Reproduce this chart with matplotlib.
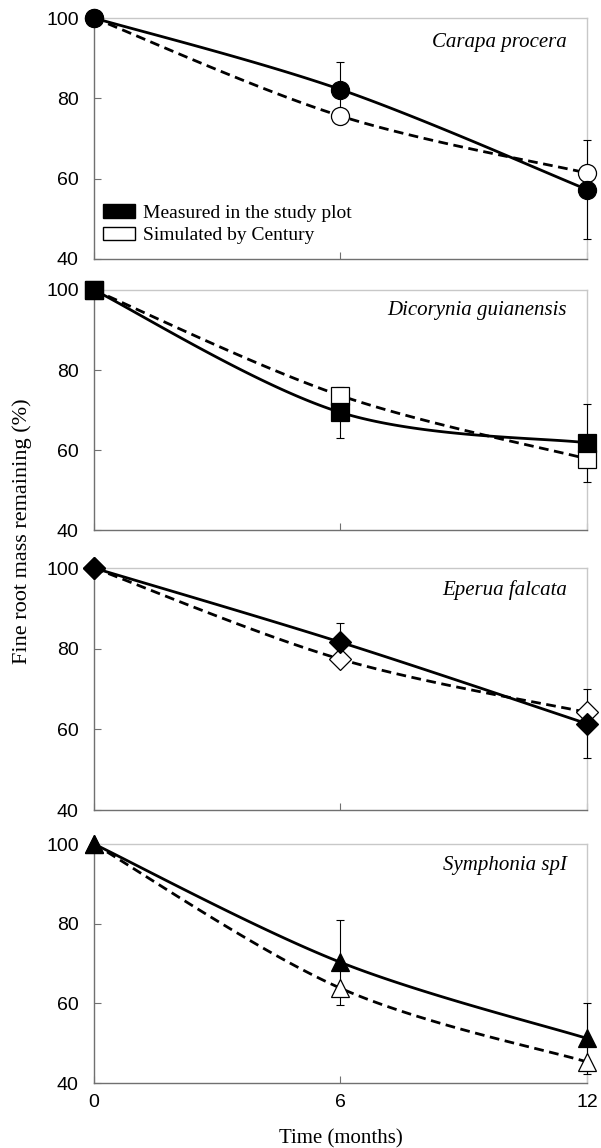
import numpy as np
import matplotlib
matplotlib.use("Agg")
import matplotlib.pyplot as plt
from matplotlib.patches import Patch

months = [0, 6, 12]
species = ["Carapa procera", "Dicorynia guianensis", "Eperua falcata", "Symphonia spI"]
markers = ["o", "s", "D", "^"]
marker_sizes = [13, 13, 11, 13]

measured = [[100, 82.2, 57.3],
            [100, 69.4, 61.8],
            [100, 81.6, 61.4],
            [100, 70.3, 51.2]]
measured_err = [[0, 6.8, 12.3],
                [0, 6.3, 9.8],
                [0, 4.8, 8.5],
                [0, 10.6, 9.0]]
simulated = [[100, 75.6, 61.4],
             [100, 73.6, 57.8],
             [100, 77.4, 64.2],
             [100, 63.8, 45.3]]


def smooth(x, y, n=60):
    # excel-like bezier smoothing through the points
    x = np.asarray(x, float)
    y = np.asarray(y, float)
    px, py = [], []
    for i in range(len(x) - 1):
        i0 = max(i - 1, 0)
        i3 = min(i + 2, len(x) - 1)
        c1x = x[i] + (x[i+1] - x[i0]) / 6
        c1y = y[i] + (y[i+1] - y[i0]) / 6
        c2x = x[i+1] - (x[i3] - x[i]) / 6
        c2y = y[i+1] - (y[i3] - y[i]) / 6
        t = np.linspace(0, 1, n)
        bx = ((1-t)**3*x[i] + 3*(1-t)**2*t*c1x + 3*(1-t)*t**2*c2x
              + t**3*x[i+1])
        by = ((1-t)**3*y[i] + 3*(1-t)**2*t*c1y + 3*(1-t)*t**2*c2y
              + t**3*y[i+1])
        px.extend(bx)
        py.extend(by)
    return px, py


serif = ["Liberation Serif", "DejaVu Serif"]
sans = ["Liberation Sans", "DejaVu Sans"]

fig = plt.figure(figsize=(6.01, 11.48), dpi=100)
boxes = [(0.1564, 0.7744, 0.8203, 0.2099),
         (0.1564, 0.5383, 0.8203, 0.2091),
         (0.1564, 0.2944, 0.8203, 0.2108),
         (0.1564, 0.0566, 0.8203, 0.2082)]
label_y = [0.90, 0.913, 0.908, 0.911]

for k, box in enumerate(boxes):
    ax = fig.add_axes(box)
    sx, sy = smooth(months, simulated[k])
    mx, my = smooth(months, measured[k])
    ax.plot(sx, sy, color="black", lw=2.0, ls=(0, (3.5, 2)), zorder=2)
    ax.plot(mx, my, color="black", lw=2.0, zorder=2)
    ax.errorbar(months[1:], measured[k][1:], yerr=measured_err[k][1:],
                fmt="none", ecolor="black", elinewidth=0.8, capsize=3,
                capthick=0.8, zorder=3, clip_on=False)
    ax.plot(months, simulated[k], ls="none", marker=markers[k],
            ms=marker_sizes[k], mfc="white", mec="black", mew=0.9,
            zorder=4, clip_on=False)
    ax.plot(months, measured[k], ls="none", marker=markers[k],
            ms=marker_sizes[k], mfc="black", mec="black", mew=0.9,
            zorder=5, clip_on=False)
    ax.set_xlim(0, 12)
    ax.set_ylim(40, 100)
    ax.set_yticks([40, 60, 80, 100])
    ax.set_xticks(months)
    ax.tick_params(direction="in", length=5, width=0.8, color="#707070",
                   labelsize=14)
    ax.tick_params(axis="y", pad=11)
    ax.tick_params(axis="x", pad=8)
    for lab in ax.get_yticklabels() + ax.get_xticklabels():
        lab.set_family(sans)
    if k < 3:
        ax.tick_params(axis="x", labelbottom=False)
    for side in ["left", "bottom"]:
        ax.spines[side].set_color("#707070")
        ax.spines[side].set_linewidth(1.0)
    for side in ["top", "right"]:
        ax.spines[side].set_color("#c8c8c8")
        ax.spines[side].set_linewidth(1.0)
    ax.text(0.959, label_y[k], species[k], transform=ax.transAxes,
            ha="right", va="center", fontsize=15, style="italic",
            family=serif)
    if k == 0:
        handles = [Patch(facecolor="black", edgecolor="black"),
                   Patch(facecolor="white", edgecolor="black")]
        ax.legend(handles, ["Measured in the study plot",
                            "Simulated by Century"],
                  loc="lower left", bbox_to_anchor=(0.003, 0.03),
                  borderaxespad=0, frameon=False,
                  prop={"family": serif, "size": 14},
                  handlelength=1.65, handleheight=0.67, handletextpad=0.41,
                  labelspacing=0.24)
    if k == 3:
        ax.set_xlabel("Time (months)", family=serif, fontsize=15,
                      labelpad=13)

fig.text(0.037, 0.5375, "Fine root mass remaining (%)", rotation=90,
         ha="center", va="center", family=serif, fontsize=16)

plt.savefig("out.png", dpi=100)
